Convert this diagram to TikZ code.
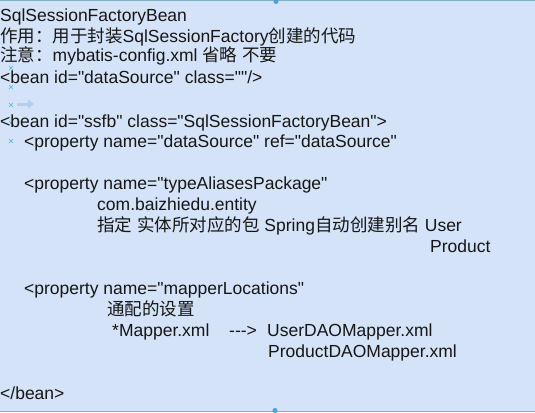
\documentclass[tikz,border=0pt]{standalone}
\usepackage{fontspec}
\setmainfont{Liberation Sans}[Ligatures=TeXOff]
\newfontfamily\cjk{Noto Sans CJK SC}
\usetikzlibrary{arrows.meta}
\definecolor{notebg}{RGB}{212,227,247}
\definecolor{notetext}{RGB}{22,22,22}
\definecolor{markcyan}{RGB}{80,180,222}
\definecolor{hintblue}{RGB}{175,208,238}
\definecolor{framecol}{RGB}{130,178,196}
\tikzset{
	x=1pt, y=-1pt, % pixel-like units, y running down
	codeline/.style={anchor=base west, inner sep=0pt, text=notetext, font=\fontsize{17.5}{20}\selectfont}, % one line of the note
	editmark/.style={markcyan, line width=0.6pt}, % small cross marks left by the editor
	handle/.style={fill=markcyan!90!blue, draw=none}, % selection handles on the frame
}

\begin{document}
\begin{tikzpicture}
		% background of the note
		\fill[notebg] (0,0) rectangle (535,412);
		\useasboundingbox (0,0) rectangle (535,412);
		\draw[framecol, line width=0.8pt] (0,0.5) -- (535,0.5);
		\draw[framecol, line width=0.8pt] (0,411.5) -- (535,411.5);
		\fill[handle] (276,1.5) circle (2.5);
		\fill[handle] (275,410.5) circle (2.5);
		
		% editor marks
		\draw[editmark] (9,66) -- (13,70) (9,70) -- (13,66);
		\draw[editmark] (9,85) -- (13,89) (9,89) -- (13,85);
		\draw[editmark] (9,103) -- (13,107) (9,107) -- (13,103);
		\draw[editmark] (9,121) -- (13,125) (9,125) -- (13,121);
		\draw[editmark] (9,139) -- (13,143) (9,143) -- (13,139);
		\coordinate (hintS) at (17,104);
		\coordinate (hintE) at (34,104);
		\draw[hintblue, line width=3pt, -{Triangle[length=6pt, width=9pt]}] (hintS) -- (hintE);
		
		% header
		\node[codeline] (title) at (0,22) {SqlSessionFactoryBean};
		\node[codeline] (usage) at (0,42) {{\cjk 作用：用于封装}SqlSessionFactory{\cjk 创建的代码}};
		\node[codeline] (note) at (0,62) {{\cjk 注意：}mybatis-config.xml {\cjk 省略} {\cjk 不要}};
		\node[codeline] (dsBean) at (0,83) {<bean id="dataSource" class=""/>};
		
		% factory bean
		\node[codeline] (ssfb) at (0,127) {<bean id="ssfb" class="SqlSessionFactoryBean">};
		\node[codeline] (propDs) at (24,147) {<property name="dataSource" ref="dataSource"};
		
		\node[codeline] (propAlias) at (24,189) {<property name="typeAliasesPackage"};
		\node[codeline] (aliasPkg) at (97,210) {com.baizhiedu.entity};
		\node[codeline] (aliasNote) at (97,231) {{\cjk 指定} {\cjk 实体所对应的包} Spring{\cjk 自动创建别名} User};
		\node[codeline] (aliasProd) at (430,252) {Product};
		
		\node[codeline] (propMapper) at (24,294) {<property name="mapperLocations"};
		\node[codeline] (mapperNote) at (107,315) {\cjk 通配的设置};
		\node[codeline] (mapperGlob) at (112,336) {*Mapper.xml};
		\node[codeline] (mapperTo) at (229,336) {--->};
		\node[codeline] (mapperUser) at (267,336) {UserDAOMapper.xml};
		\node[codeline] (mapperProd) at (268,357) {ProductDAOMapper.xml};
		
		\node[codeline] (beanEnd) at (0,399) {</bean>};
\end{tikzpicture}
\end{document}
